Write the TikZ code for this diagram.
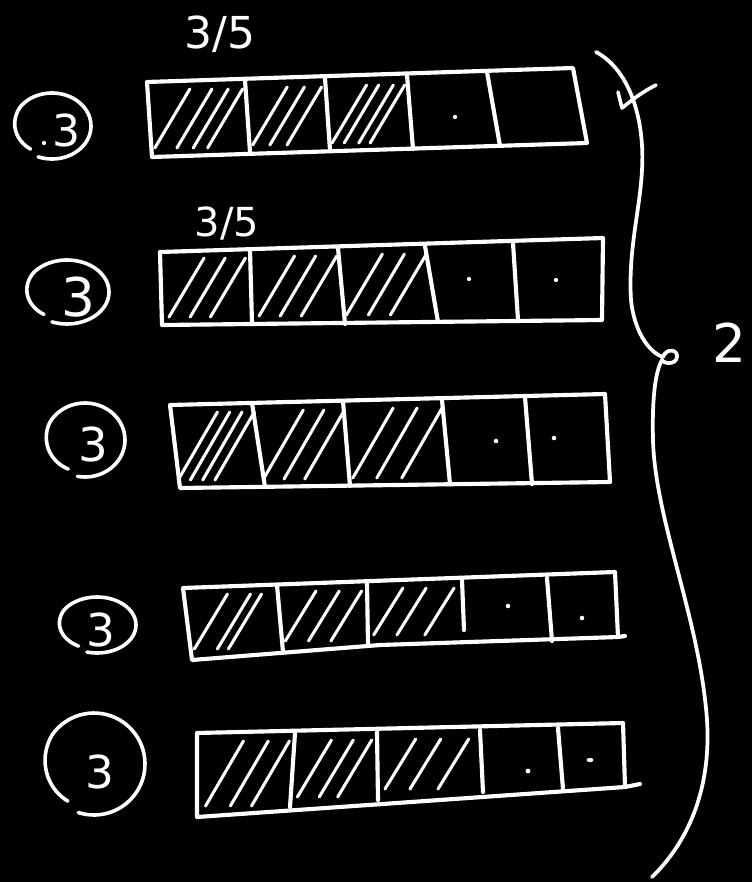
\documentclass[tikz,border=0pt]{standalone}
\usepackage{fontspec}
\setmainfont{DejaVu Sans}
\newcommand{\hatchcell}[5]{%
  \foreach \f in {#5}{%
    \draw[hatchline] ({#1+\f*(#2-#1)},{#4-6}) -- ++({0.48*(#4-#3)},{-(#4-#3)+14});
  }%
}
\newcommand{\looped}[5]{% cx cy rx ry startangle
  \draw[loopline] plot[smooth, domain=#5:{#5+343}, samples=70, variable=\t]
    ({#1+#3*(1-0.11*max(0,1-(\t-#5)/90))*cos(\t)},
     {#2+#4*(1-0.11*max(0,1-(\t-#5)/90))*sin(\t)});
}
\begin{document}
\begin{tikzpicture}[x=0.75pt,y=-0.75pt,line cap=round,line join=round,
  barline/.style={white,line width=3.1pt},
  hatchline/.style={white,line width=2.3pt},
  loopline/.style={white,line width=2.7pt},
  braceline/.style={white,line width=2.8pt},
  digit/.style={white,inner sep=0pt}]
\fill[black] (0,0) rectangle (752,882);
\useasboundingbox (0,0) rectangle (752,882);

% ---- bar 1
\draw[barline] (147,82) -- (573,68) -- (587,143) -- (152,157) -- cycle;
\draw[barline] (245,80) -- (250,152);
\draw[barline] (325,78) -- (330,150);
\draw[barline] (407,75) -- (413,149);
\draw[barline] (487,72) -- (500,146);
\hatchcell{150}{246}{81}{154}{0.05,0.28,0.45,0.6}
\hatchcell{248}{326}{79}{151}{0.06,0.28,0.5}
\hatchcell{328}{409}{77}{149}{0.05,0.2,0.38,0.52}
\fill[white] (455,117) circle (1.6pt);

% ---- bar 2
\draw[barline] (160,252) -- (603,238) -- (602,320) -- (162,325) -- cycle;
\draw[barline] (250,250) -- (252,323);
\draw[barline] (338,248) -- (345,324);
\draw[barline] (425,246) -- (438,322);
\draw[barline] (513,243) -- (518,320);
\hatchcell{162}{250}{250}{323}{0.08,0.32,0.55}
\hatchcell{252}{340}{248}{322}{0.08,0.32,0.56}
\hatchcell{342}{430}{246}{321}{0.05,0.3,0.55}
\fill[white] (469,279) circle (1.6pt);
\fill[white] (556,280) circle (1.6pt);

% ---- bar 3
\draw[barline] (170,405) -- (605,394) -- (610,482) -- (180,488) -- cycle;
\draw[barline] (252,403) -- (265,487);
\draw[barline] (343,401) -- (350,486);
\draw[barline] (442,400) -- (450,484);
\draw[barline] (525,397) -- (532,484);
\hatchcell{174}{256}{404}{486}{0.05,0.2,0.35,0.5}
\hatchcell{260}{346}{402}{485}{0.04,0.28,0.52}
\hatchcell{348}{444}{400}{484}{0.05,0.3,0.56}
\fill[white] (496,441) circle (1.7pt);
\fill[white] (554,438) circle (1.7pt);

% ---- bar 4
\draw[barline] (183,588) -- (615,572) -- (618,637) -- (380,645) -- (192,660) -- cycle;
\draw[barline] (618,637) -- (625,636);
\draw[barline] (277,585) -- (283,652);
\draw[barline] (367,582) -- (368,645);
\draw[barline] (462,580) -- (464,630);
\draw[barline] (547,578) -- (552,641);
\hatchcell{187}{279}{586}{655}{0.08,0.33,0.45}
\hatchcell{281}{367}{583}{647}{0.05,0.32,0.58}
\hatchcell{369}{462}{580}{641}{0.05,0.3,0.6}
\fill[white] (508,606) circle (1.7pt);
\fill[white] (582,618) circle (1.7pt);

% ---- bar 5
\draw[barline] (197,733) -- (623,723) -- (625,787) -- (197,817) -- cycle;
\draw[barline] (625,787) -- (640,784);
\draw[barline] (295,733) -- (290,807);
\draw[barline] (377,732) -- (378,800);
\draw[barline] (480,730) -- (483,792);
\draw[barline] (558,728) -- (563,789);
\hatchcell{200}{292}{733}{812}{0.06,0.33,0.56}
\hatchcell{294}{378}{732}{803}{0.04,0.3,0.52}
\hatchcell{380}{480}{731}{795}{0.05,0.3,0.58}
\fill[white] (528,771) circle (1.8pt);
\fill[white] (590,760) ellipse (2.6pt and 1.6pt);

% ---- circled threes
\looped{52}{126}{39}{33}{128}
\looped{67}{292}{42}{32}{128}
\looped{85}{440}{40}{37}{118}
\looped{97}{625}{39}{28}{122}
\looped{94}{764}{51}{51}{125}
\fill[white] (44,143) circle (1.6pt);
\node[digit,font=\fontsize{33}{33}\selectfont] (t1) at (66,130) {3};
\node[digit,font=\fontsize{40}{40}\selectfont] (t2) at (78,297) {3};
\node[digit,font=\fontsize{35}{35}\selectfont] (t3) at (93,445) {3};
\node[digit,font=\fontsize{34}{34}\selectfont] (t4) at (101,630) {3};
\node[digit,font=\fontsize{34}{34}\selectfont] (t5) at (100,772) {3};

% ---- fraction labels
\node[digit,font=\fontsize{33}{33}\selectfont] (f1) at (220,34) {3/5};
\node[digit,font=\fontsize{30}{30}\selectfont] (f2) at (227,224) {3/5};

% ---- check mark
\draw[loopline] (618,92) -- (622,108) .. controls (632,100) and (642,92) .. (656,85);

% ---- brace
\draw[braceline] (596,52) .. controls (630,70) and (645,120) .. (642,170)
  .. controls (640,210) and (628,250) .. (631,300)
  .. controls (634,330) and (648,352) .. (663,357)
  .. controls (666,348) and (678,349) .. (677,357)
  .. controls (676,365) and (664,364) .. (662,360)
  .. controls (655,372) and (652,400) .. (653,440)
  .. controls (655,520) and (700,620) .. (707,720)
  .. controls (712,800) and (680,850) .. (652,877);
\node[digit,font=\fontsize{40}{40}\selectfont] (two) at (729,343) {2};
\end{tikzpicture}
\end{document}
